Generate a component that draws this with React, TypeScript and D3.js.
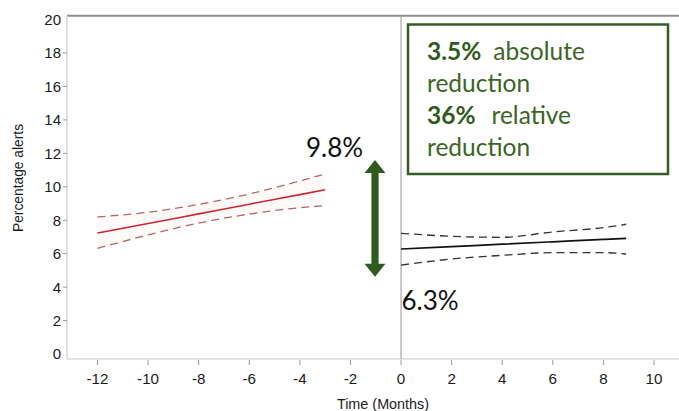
import React from "react";
import * as d3 from "d3";

// ---- data ----
const xTicks = [-12, -10, -8, -6, -4, -2, 0, 2, 4, 6, 8, 10];
const yTicks = [0, 2, 4, 6, 8, 10, 12, 14, 16, 18, 20];

const preMonths = [-12, -10, -8, -6, -4, -3];
const preFit = [7.24, 7.8, 8.38, 8.96, 9.53, 9.82];
const preUpper = [8.2, 8.48, 8.95, 9.57, 10.35, 10.77];
const preLower = [6.32, 7.12, 7.83, 8.37, 8.75, 8.87];

const postMonths = [0, 2, 4, 6, 8, 8.9];
const postFit = [6.28, 6.42, 6.57, 6.71, 6.85, 6.92];
const postUpper = [7.22, 7.04, 6.98, 7.3, 7.56, 7.76];
const postLower = [5.32, 5.68, 5.9, 6.06, 6.06, 5.98];

const preLabel = "9.8%";
const postLabel = "6.3%";
const arrowMonth = -1.03;
const arrowFrom = 4.62;
const arrowTo = 11.6;

const boxLines: [string, string][] = [
  ["3.5%", "absolute"],
  ["", "reduction"],
  ["36%", "relative"],
  ["", "reduction"],
];

const W = 679;
const H = 411;

export default function App() {
  const x = d3.scaleLinear().domain([-12, 10]).range([97.5, 654]);
  const y = d3.scaleLinear().domain([0, 20]).range([354, 19.6]);

  const left = 67;
  const right = 679;
  const top = 15.7;
  const bottom = 359;

  const line = d3
    .line<[number, number]>()
    .x((d) => x(d[0]))
    .y((d) => y(d[1]))
    .curve(d3.curveMonotoneX);

  const zip = (a: number[], b: number[]) =>
    a.map((v, i) => [v, b[i]] as [number, number]);

  const ax = x(arrowMonth);
  const aTop = y(arrowTo);
  const aBot = y(arrowFrom);
  const headH = 13;
  const headW = 10.5;
  const shaftW = 3.6;
  const arrowPath = [
    `M${ax},${aTop}`,
    `L${ax + headW},${aTop + headH}`,
    `L${ax + shaftW},${aTop + headH}`,
    `L${ax + shaftW},${aBot - headH}`,
    `L${ax + headW},${aBot - headH}`,
    `L${ax},${aBot}`,
    `L${ax - headW},${aBot - headH}`,
    `L${ax - shaftW},${aBot - headH}`,
    `L${ax - shaftW},${aTop + headH}`,
    `L${ax - headW},${aTop + headH}`,
    "Z",
  ].join(" ");

  const green = "#2f5a20";
  const axisFont = "'Liberation Sans', Arial, sans-serif";
  const calFont = "Lato, 'Open Sans', sans-serif";

  return (
    <svg
      width={W}
      height={H}
      style={{ position: "absolute", left: 0, top: 0, display: "block", background: "#fff" }}
    >
      {/* frame */}
      <line x1={left} x2={right} y1={top} y2={top} stroke="#8f8f8f" strokeWidth={2} />
      <line x1={left} x2={left} y1={top} y2={bottom} stroke="#d6d6d6" strokeWidth={1.5} />
      <line x1={left} x2={right} y1={bottom} y2={bottom} stroke="#dadada" strokeWidth={1.5} />
      <line x1={x(0)} x2={x(0)} y1={top} y2={bottom} stroke="#a6a6a6" strokeWidth={1.2} />

      {/* y ticks */}
      {yTicks.map((t) => (
        <g key={"y" + t}>
          {t > 0 && t < 20 && (
            <line x1={left - 4} x2={left} y1={y(t)} y2={y(t)} stroke="#9a9a9a" strokeWidth={1} />
          )}
          <text
            x={61}
            y={y(t)}
            dy="0.36em"
            textAnchor="end"
            fontFamily={axisFont}
            fontSize={15}
            fill="#1a1a1a"
          >
            {t}
          </text>
        </g>
      ))}

      {/* x ticks */}
      {xTicks.map((t) => (
        <g key={"x" + t}>
          <line x1={x(t)} x2={x(t)} y1={bottom + 1} y2={bottom + 6} stroke="#9a9a9a" strokeWidth={1} />
          <text
            x={x(t)}
            y={383.5}
            textAnchor="middle"
            fontFamily={axisFont}
            fontSize={15.2}
            fill="#1a1a1a"
          >
            {t}
          </text>
        </g>
      ))}

      {/* axis titles */}
      <text
        x={383}
        y={409}
        textAnchor="middle"
        fontFamily={axisFont}
        fontSize={14.4}
        fill="#1a1a1a"
      >
        Time (Months)
      </text>
      <text
        transform={`translate(23,178) rotate(-90)`}
        textAnchor="middle"
        fontFamily={axisFont}
        fontSize={13.8}
        fill="#1a1a1a"
      >
        Percentage alerts
      </text>

      {/* pre-intervention */}
      <path
        d={
          d3
            .area<number>()
            .x((_, i) => x(preMonths[i]))
            .y0((_, i) => y(preLower[i]))
            .y1((_, i) => y(preUpper[i]))
            .curve(d3.curveMonotoneX)(preMonths) || ""
        }
        fill="#fefafa"
        stroke="none"
      />
      <path d={line(zip(preMonths, preUpper)) || ""} fill="none" stroke="#b4666d" strokeWidth={1.3} strokeDasharray="8 5" />
      <path d={line(zip(preMonths, preLower)) || ""} fill="none" stroke="#b4666d" strokeWidth={1.3} strokeDasharray="8 5" />
      <path d={line(zip(preMonths, preFit)) || ""} fill="none" stroke="#c8282f" strokeWidth={1.6} />

      {/* post-intervention */}
      <path d={line(zip(postMonths, postUpper)) || ""} fill="none" stroke="#333" strokeWidth={1.3} strokeDasharray="8 5" />
      <path d={line(zip(postMonths, postLower)) || ""} fill="none" stroke="#333" strokeWidth={1.3} strokeDasharray="8 5" />
      <path d={line(zip(postMonths, postFit)) || ""} fill="none" stroke="#111" strokeWidth={1.7} />

      {/* arrow and labels */}
      <path d={arrowPath} fill={green} />
      <text x={306} y={157} fontFamily={calFont} fontSize={26} fill="#111">
        {preLabel}
      </text>
      <text x={401.5} y={310} fontFamily={calFont} fontSize={26} fill="#111">
        {postLabel}
      </text>

      {/* box */}
      <rect x={408} y={24.5} width={260} height={149.5} fill="#fff" stroke="#345e25" strokeWidth={2.5} />
      {boxLines.map((l, i) => (
        <text
          key={"b" + i}
          x={427}
          y={60 + i * 31.9}
          fontFamily={calFont}
          fontSize={24.5}
          fill="#3b6526"
        >
          {l[0] && (
            <tspan fontWeight={700} fill="#2f5a20">
              {l[0]}
            </tspan>
          )}
          {l[0] ? <tspan dx={i === 0 ? 12 : 16}>{l[1]}</tspan> : l[1]}
        </text>
      ))}
    </svg>
  );
}
